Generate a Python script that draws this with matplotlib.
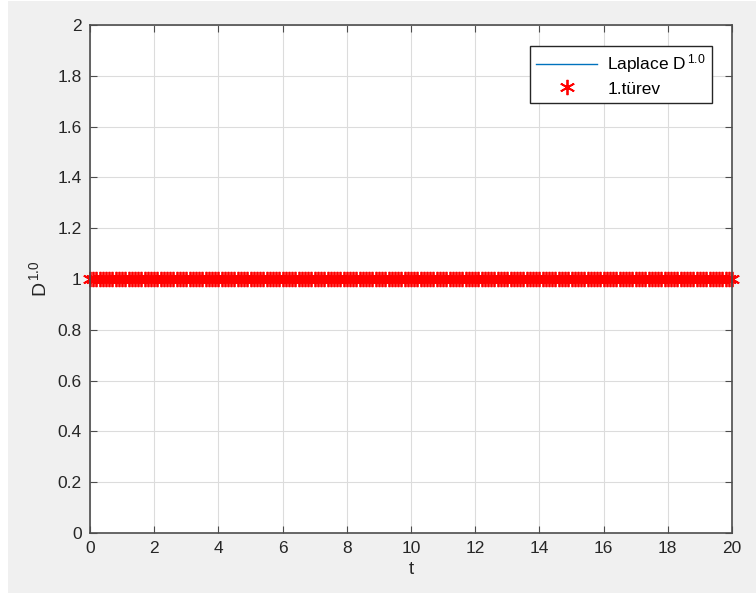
import numpy as np
import matplotlib
matplotlib.use("Agg")
import matplotlib.pyplot as plt
from matplotlib.patches import Rectangle

# data
t = np.arange(0, 201) / 10.0          # 0:0.1:20
laplaceD = np.ones(len(t))            # Laplace D^1.0
turev1 = np.ones(len(t))              # 1.türev
xticks = np.arange(0, 21, 2)
yticks = np.arange(0, 2.01, 0.2)

plt.rcParams['font.family'] = ['Liberation Sans', 'DejaVu Sans']
plt.rcParams['mathtext.fontset'] = 'custom'
plt.rcParams['mathtext.rm'] = 'Liberation Sans'
plt.rcParams['mathtext.it'] = 'Liberation Sans'

W, H = 756, 597
fig = plt.figure(figsize=(W / 100, H / 100), dpi=100, facecolor='white')
fig.patches.append(Rectangle((8 / W, 4 / H), 1 - 8 / W, 1 - 5 / H, transform=fig.transFigure,
                             facecolor='#f0f0f0', edgecolor='none', zorder=-10))

ax = fig.add_axes([90 / W, (H - 533) / H, (732 - 90) / W, (533 - 25) / H])
ax.set_facecolor('white')

ax.plot(t, laplaceD, color='#0072BD', lw=1.0, label='Laplace D$^{\\,1.0}$')
ax.plot(t, turev1, ls='none', marker=(6, 2, 0), color='red', ms=11, mew=1.3,
        label='1.türev', clip_on=False)

ax.set_xlim(0, 20)
ax.set_ylim(0, 2)
ax.set_xticks(xticks)
ax.set_yticks(yticks)
ax.set_xticklabels([str(v) for v in xticks])
ax.set_yticklabels(['0' if v == 0 else ('%g' % round(v, 1)) for v in yticks])

ax.grid(True, color='#dcdcdc', lw=0.8)
ax.set_axisbelow(True)
for s in ax.spines.values():
    s.set_color('#4d4d4d')
    s.set_linewidth(1.2)
ax.tick_params(direction='in', top=True, right=True, length=5, width=0.8,
               colors='#4d4d4d', labelcolor='#262626', labelsize=12.5, pad=6)

ax.set_xlabel('t', fontsize=13.5, color='#262626', labelpad=3)
ax.set_ylabel('D$^{\\,1.0}$', fontsize=14, color='#262626', labelpad=5)

leg = ax.legend(loc='upper right', bbox_to_anchor=(0.969, 0.958), borderaxespad=0,
                fontsize=12.5, fancybox=False, framealpha=1, edgecolor='#262626',
                handlelength=3.5, borderpad=0.35, labelspacing=0.35, handletextpad=0.6)
leg.get_frame().set_linewidth(1.0)

fig.savefig('out.png', dpi=100, facecolor=fig.get_facecolor())
